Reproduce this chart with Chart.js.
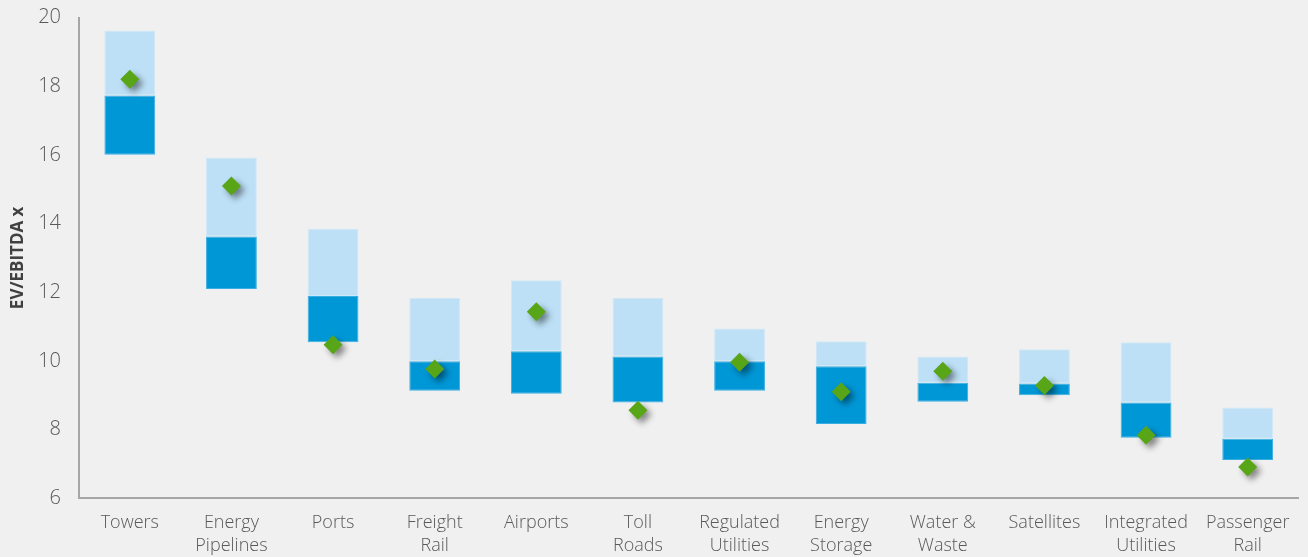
<!DOCTYPE html>
<html>
<head>
<meta charset="utf-8">
<script src="https://cdn.jsdelivr.net/npm/chart.js@4"></script>
<style>
  html, body { margin: 0; padding: 0; background: #f0f0f0; }
  #wrap { width: 1308px; height: 557px; }
</style>
</head>
<body>
<div id="wrap"><canvas id="grafico" width="1308" height="557"></canvas></div>
<script>
const categorias = [
  'Towers', ['Energy', 'Pipelines'], 'Ports', ['Freight', 'Rail'], 'Airports',
  ['Toll', 'Roads'], ['Regulated', 'Utilities'], ['Energy', 'Storage'],
  ['Water &', 'Waste'], 'Satellites', ['Integrated', 'Utilities'], ['Passenger', 'Rail']
];
const minimo  = [16.0, 12.09, 10.54, 9.13, 9.04, 8.79, 9.13, 8.16, 8.81, 9.0, 7.76, 7.11];
const mediana = [17.73, 13.62, 11.89, 9.99, 10.28, 10.13, 9.99, 9.84, 9.36, 9.34, 8.79, 7.73];
const maximo  = [19.62, 15.92, 13.85, 11.83, 12.35, 11.84, 10.94, 10.57, 10.13, 10.34, 10.54, 8.64];
const atual   = [18.2, 15.09, 10.47, 9.76, 11.43, 8.56, 9.96, 9.1, 9.7, 9.28, 7.83, 6.91];
const ticksY  = [6, 8, 10, 12, 14, 16, 18, 20];

const sombra = {
  id: 'sombra',
  beforeDatasetDraw(chart, args) {
    if (args.index !== 2) return;
    const ctx = chart.ctx;
    ctx.save();
    ctx.shadowColor = 'rgba(0,0,0,0.45)';
    ctx.shadowBlur = 6;
    ctx.shadowOffsetX = 4;
    ctx.shadowOffsetY = 4;
  },
  afterDatasetDraw(chart, args) {
    if (args.index !== 2) return;
    chart.ctx.restore();
  }
};

const fundo = {
  id: 'fundo',
  beforeDraw(chart) {
    const ctx = chart.ctx;
    ctx.save();
    ctx.fillStyle = '#f0f0f0';
    ctx.fillRect(0, 0, chart.width, chart.height);
    ctx.restore();
  }
};

const ctx = document.getElementById('grafico').getContext('2d');
new Chart(ctx, {
  data: {
    labels: categorias,
    datasets: [
      {
        type: 'bar',
        label: 'Low',
        data: minimo.map((v, i) => [v, mediana[i]]),
        backgroundColor: '#0097d7',
        borderColor: '#3aaee2',
        borderWidth: 1,
        borderSkipped: false,
        grouped: false,
        barPercentage: 0.5,
        categoryPercentage: 1,
        order: 2
      },
      {
        type: 'bar',
        label: 'High',
        data: mediana.map((v, i) => [v, maximo[i]]),
        backgroundColor: '#bde0f6',
        borderColor: '#cfe8f8',
        borderWidth: 1,
        borderSkipped: false,
        grouped: false,
        barPercentage: 0.5,
        categoryPercentage: 1,
        order: 2
      },
      {
        type: 'line',
        label: 'Current',
        data: atual,
        showLine: false,
        pointStyle: 'rectRot',
        pointRadius: 9.5,
        pointHoverRadius: 9.5,
        pointBackgroundColor: '#58a618',
        pointBorderColor: '#58a618',
        pointBorderWidth: 0,
        order: 1
      }
    ]
  },
  options: {
    responsive: false,
    animation: false,
    layout: { padding: { top: 0, right: 8, bottom: -14, left: 0 } },
    plugins: {
      legend: { display: false },
      tooltip: { enabled: false }
    },
    scales: {
      x: {
        grid: { display: false, drawTicks: false },
        border: { display: true, color: '#a6a6a6', width: 2 },
        ticks: {
          color: '#595959',
          padding: 13,
          maxRotation: 0,
          autoSkip: false,
          font: { family: 'Open Sans', size: 18, weight: 300, lineHeight: 1.3 }
        }
      },
      y: {
        min: 6,
        max: 20,
        afterFit(scale) {
          scale.width = 79;
          scale.paddingTop = 17.5;
          scale.paddingBottom = 0;
        },
        afterBuildTicks(scale) { scale.ticks = ticksY.map(v => ({ value: v })); },
        grid: { display: false, drawTicks: false },
        border: { display: true, color: '#a6a6a6', width: 2 },
        title: {
          display: true,
          text: 'EV/EBITDA x',
          color: '#404040',
          padding: { top: 8, bottom: 10 },
          font: { family: 'Open Sans', size: 17, weight: 'bold' }
        },
        ticks: {
          color: '#595959',
          padding: 18,
          font: { family: 'Open Sans', size: 20, weight: 300 }
        }
      }
    }
  },
  plugins: [fundo, sombra]
});
</script>
</body>
</html>
